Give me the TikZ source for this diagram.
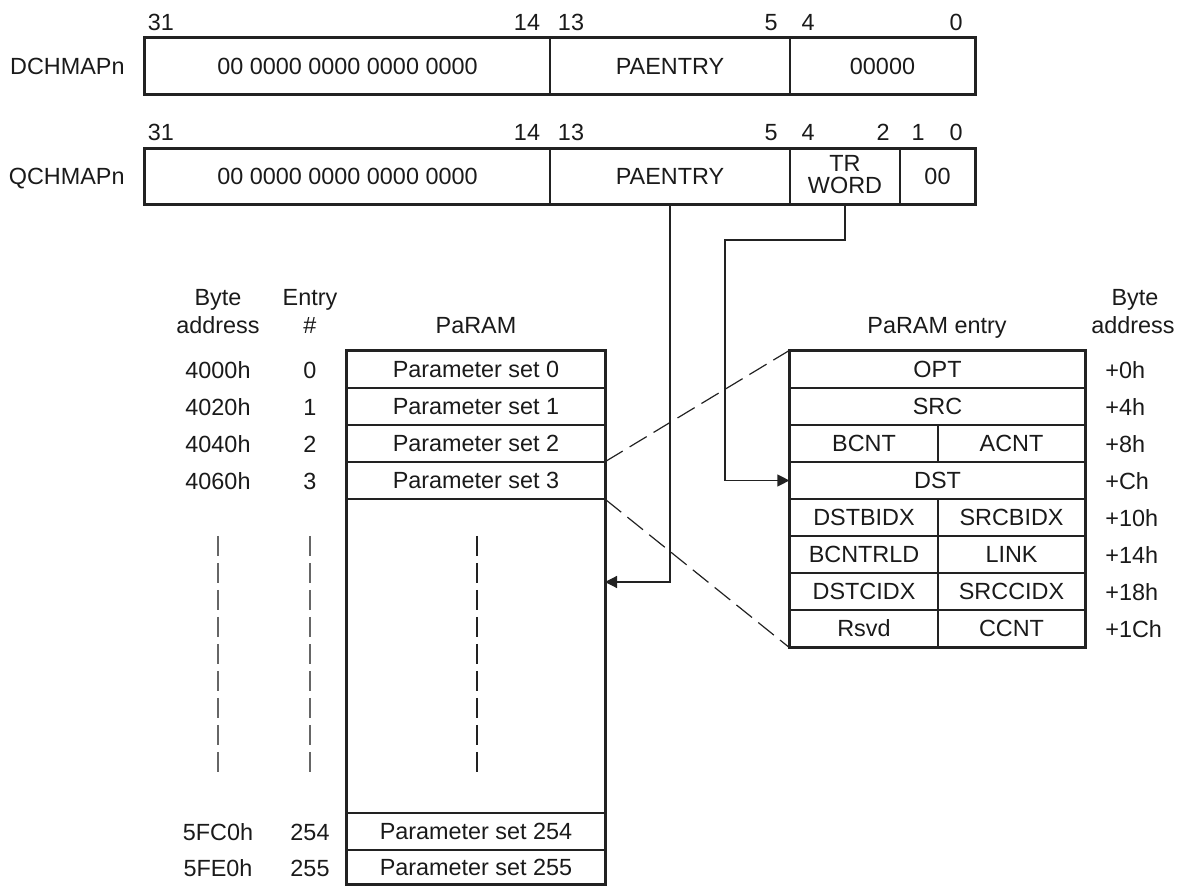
\documentclass[tikz,border=0pt]{standalone}
\usepackage{fontspec}
\setmainfont{Liberation Sans}
\usetikzlibrary{arrows.meta}
\definecolor{linec}{HTML}{222222}
\definecolor{txtc}{HTML}{1A1A1A}
\definecolor{dashc}{HTML}{666666}
\tikzset{
  lbl/.style={inner sep=0pt, text height=8.4pt, text depth=0pt, text=txtc},
  fld/.style={draw=linec, line width=0.6pt, inner sep=0pt, text height=8.4pt, text depth=0pt, text=txtc},
  outerbox/.style={draw=linec, line width=1.3pt},
  conn/.style={draw=linec, line width=0.6pt},
  tipend/.style={-{Triangle[length=6pt,width=6pt]}},
  zoomln/.style={draw=linec, line width=0.6pt, dash pattern=on 10pt off 4pt},
  gapln/.style={line width=0.6pt, dash pattern=on 10pt off 3.5pt},
}
\newcommand\fld[6]{\node[fld, minimum width={(#4-#2)*0.5pt}, minimum height={(#5-#3)*0.5pt}] (#1) at ({(#2+#4)/2},{(#3+#5)/2}) {#6};}
\begin{document}
\begin{tikzpicture}[x=0.5pt,y=-0.5pt,font=\fontsize{11.7}{13}\selectfont]
\useasboundingbox (0,0) rectangle (1183,886);

% ---------- DCHMAPn ----------
\node[lbl, anchor=east] (dname) at (125,66) {DCHMAPn};
\node[lbl] (db31) at (161,22) {31};
\node[lbl] (db14) at (527,22) {14};
\node[lbl] (db13) at (571,22) {13};
\node[lbl] (db5) at (771,22) {5};
\node[lbl] (db4) at (808,22) {4};
\node[lbl] (db0) at (956,22) {0};
\fld{d1}{145}{38}{550}{94}{00 0000 0000 0000 0000}
\fld{d2}{550}{38}{790}{94}{PAENTRY}
\fld{d3}{790}{38}{975}{94}{00000}
\draw[outerbox] (d1.north west) rectangle (d3.south east);

% ---------- QCHMAPn ----------
\node[lbl, anchor=east] (qname) at (125,176) {QCHMAPn};
\node[lbl] (qb31) at (161,132) {31};
\node[lbl] (qb14) at (527,132) {14};
\node[lbl] (qb13) at (571,132) {13};
\node[lbl] (qb5) at (771,132) {5};
\node[lbl] (qb4) at (808,132) {4};
\node[lbl] (qb2) at (883,132) {2};
\node[lbl] (qb1) at (918,132) {1};
\node[lbl] (qb0) at (956,132) {0};
\fld{q1}{145}{149}{550}{204}{00 0000 0000 0000 0000}
\fld{q2}{550}{149}{790}{204}{PAENTRY}
\fld{q3}{790}{149}{900}{204}{}
\fld{q4}{900}{149}{975}{204}{00}
\node[lbl] (qtr) at (845,163) {TR};
\node[lbl] (qword) at (845,185) {WORD};
\draw[outerbox] (q1.north west) rectangle (q4.south east);

% ---------- headers ----------
\node[lbl] (hbyte) at (218,297) {Byte};
\node[lbl] (haddr) at (218,325) {address};
\node[lbl] (hentry) at (310,297) {Entry};
\node[lbl] (hnum) at (310,325) {\#};
\node[lbl] (hparam) at (476,325) {PaRAM};
\node[lbl] (hpentry) at (937,325) {PaRAM entry};
\node[lbl] (rbyte) at (1135,297) {Byte};
\node[lbl] (raddr) at (1133,325) {address};

% ---------- PaRAM ----------
\fld{p0}{347}{351}{605}{388}{Parameter set 0}
\fld{p1}{347}{388}{605}{425}{Parameter set 1}
\fld{p2}{347}{425}{605}{462}{Parameter set 2}
\fld{p3}{347}{462}{605}{499}{Parameter set 3}
\fld{p254}{347}{813}{605}{850}{Parameter set 254}
\fld{p255}{347}{850}{605}{884}{Parameter set 255}
\draw[outerbox] (p0.north west) rectangle (p255.south east);

\node[lbl] (a0) at (218,370) {4000h};
\node[lbl] (a1) at (218,407) {4020h};
\node[lbl] (a2) at (218,444) {4040h};
\node[lbl] (a3) at (218,481) {4060h};
\node[lbl] (a254) at (218,832) {5FC0h};
\node[lbl] (a255) at (218,868) {5FE0h};
\node[lbl] (n0) at (310,370) {0};
\node[lbl] (n1) at (310,407) {1};
\node[lbl] (n2) at (310,444) {2};
\node[lbl] (n3) at (310,481) {3};
\node[lbl] (n254) at (310,832) {254};
\node[lbl] (n255) at (310,868) {255};

\draw[gapln, draw=dashc] (218,536) -- (218,772);
\draw[gapln, draw=dashc] (310,536) -- (310,772);
\draw[gapln, draw=linec] (477,536) -- (477,772);

% ---------- PaRAM entry ----------
\fld{e0}{790}{351}{1085}{388}{OPT}
\fld{e1}{790}{388}{1085}{425}{SRC}
\fld{e2a}{790}{425}{938}{462}{BCNT}
\fld{e2b}{938}{425}{1085}{462}{ACNT}
\fld{e3}{790}{462}{1085}{499}{DST}
\fld{e4a}{790}{499}{938}{536}{DSTBIDX}
\fld{e4b}{938}{499}{1085}{536}{SRCBIDX}
\fld{e5a}{790}{536}{938}{573}{BCNTRLD}
\fld{e5b}{938}{536}{1085}{573}{LINK}
\fld{e6a}{790}{573}{938}{610}{DSTCIDX}
\fld{e6b}{938}{573}{1085}{610}{SRCCIDX}
\fld{e7a}{790}{610}{938}{647}{Rsvd}
\fld{e7b}{938}{610}{1085}{647}{CCNT}
\draw[outerbox] (e0.north west) rectangle (e7b.south east);

\node[lbl, anchor=west] (o0) at (1105,370) {+0h};
\node[lbl, anchor=west] (o1) at (1105,407) {+4h};
\node[lbl, anchor=west] (o2) at (1105,444) {+8h};
\node[lbl, anchor=west] (o3) at (1105,481) {+Ch};
\node[lbl, anchor=west] (o4) at (1105,518) {+10h};
\node[lbl, anchor=west] (o5) at (1105,555) {+14h};
\node[lbl, anchor=west] (o6) at (1105,592) {+18h};
\node[lbl, anchor=west] (o7) at (1105,629) {+1Ch};

% ---------- zoom lines ----------
\draw[zoomln] (p3.north east) -- (e0.north west);
\draw[zoomln] (p3.south east) -- (e7a.south west);

% ---------- connectors ----------
\coordinate (pin) at (605,582);
\draw[conn, tipend] (q2.south) |- (pin);
\coordinate (bend) at (725,240);
\draw[conn, tipend] (q3.south) |- (bend) |- (e3.west);
\end{tikzpicture}
\end{document}
